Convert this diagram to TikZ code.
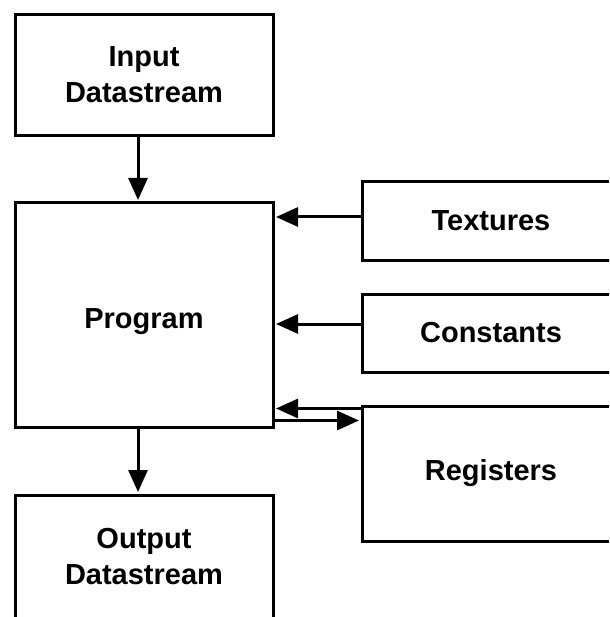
\documentclass[tikz,border=0pt]{standalone}
\usepackage{fontspec}
\setmainfont{Liberation Sans}
\usetikzlibrary{arrows.meta}
\begin{document}
\begin{tikzpicture}[x=1pt,y=-1pt,
  box/.style={draw,line width=3pt,font=\bfseries\fontsize{29}{36}\selectfont,align=center,inner sep=0pt},
  arr/.style={line width=3pt,-{Triangle[length=22pt,width=19pt]},shorten >=1.5pt}]
\useasboundingbox (0,0) rectangle (609,617);
\clip (0,0) rectangle (609,617);
\node[box,minimum width=258pt,minimum height=121pt] (in) at (144,75) {Input\\Datastream};
\node[box,minimum width=258pt,minimum height=224pt] (prog) at (144,315) {\raisebox{-13pt}[0pt][0pt]{Program}};
\node[box,minimum width=258pt,minimum height=124pt] (out) at (144,557) {Output\\Datastream};
\node[box,minimum width=258pt,minimum height=78pt] (tex) at (491,221) {Textures};
\node[box,minimum width=258pt,minimum height=78pt] (con) at (491,333) {Constants};
\node[box,minimum width=258pt,minimum height=135pt] (reg) at (491,473.5) {Registers};
\draw[arr] ([xshift=-6pt]in.south) -- ([xshift=-6pt]in.south |- prog.north);
\draw[arr] ([xshift=-6pt]prog.south) -- ([xshift=-6pt]prog.south |- out.north);
\draw[arr] ([yshift=4pt]tex.west) -- ([yshift=4pt]tex.west -| prog.east);
\draw[arr] ([yshift=9pt]con.west) -- ([yshift=9pt]con.west -| prog.east);
\draw[arr] ([yshift=-4pt]reg.north west) -- ([yshift=-4pt]reg.north west -| prog.east);
\draw[arr] ([yshift=-16pt]reg.north west -| prog.east) -- ([yshift=-16pt]reg.north west);
\end{tikzpicture}
\end{document}
